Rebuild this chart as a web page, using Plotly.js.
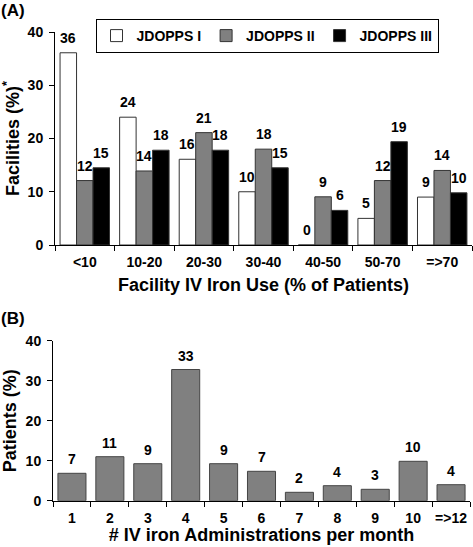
<!DOCTYPE html>
<html>
<head>
<meta charset="utf-8">
<script src="https://cdn.plot.ly/plotly-3.0.1.min.js"></script>
<style>html,body{margin:0;padding:0;background:#fff;}#chart{width:473px;height:547px;}</style>
</head>
<body>
<div id="chart"></div>
<script>
// Panel A data
const catsA = ['<10', '10-20', '20-30', '30-40', '40-50', '50-70', '=>70'];
const seriesNames = ['JDOPPS I', 'JDOPPS II', 'JDOPPS III'];
const valsI   = [36.1, 24.0, 16.1, 10.0, 0.0, 5.0, 9.0];
const valsII  = [12.1, 13.9, 21.1, 18.0, 9.05, 12.1, 14.0];
const valsIII = [14.5, 17.8, 17.8, 14.5, 6.5, 19.4, 9.8];
const labI    = ['36', '24', '16', '10', '0', '5', '9'];
const labII   = ['12', '14', '21', '18', '9', '12', '14'];
const labIII  = ['15', '18', '18', '15', '6', '19', '10'];

// Panel B data
const catsB = ['1', '2', '3', '4', '5', '6', '7', '8', '9', '10', '=>12'];
const valsB = [6.85, 11.0, 9.25, 32.8, 9.25, 7.35, 2.1, 3.75, 2.85, 9.85, 4.0];
const labB  = ['7', '11', '9', '33', '9', '7', '2', '4', '3', '10', '4'];

const FONT = 'Liberation Sans, Arial, sans-serif';
const colorsA = ['#ffffff', '#808080', '#000000'];
const valsA = [valsI, valsII, valsIII];
const labsA = [labI, labII, labIII];

const traces = [];
for (let s = 0; s < 3; s++) {
  traces.push({
    type: 'bar', x: catsA, y: valsA[s], name: seriesNames[s],
    xaxis: 'x', yaxis: 'y',
    marker: {color: colorsA[s], line: {color: '#333', width: 1}},
    hoverinfo: 'skip'
  });
}
traces.push({
  type: 'bar', x: catsB, y: valsB, name: 'B', showlegend: false,
  xaxis: 'x2', yaxis: 'y2', width: 0.74,
  marker: {color: '#808080', line: {color: '#444', width: 1}},
  hoverinfo: 'skip'
});

const lblFont = {family: FONT, size: 14, color: '#000', weight: 'bold'};
const annotations = [];
const shiftA = [-16.5, 0, 16.5];
for (let s = 0; s < 3; s++) {
  catsA.forEach((c, i) => {
    annotations.push({
      xref: 'x', yref: 'y', x: i, y: valsA[s][i], text: labsA[s][i],
      showarrow: false, yanchor: 'bottom', xanchor: 'center',
      xshift: shiftA[s], yshift: 5, font: lblFont
    });
  });
}
catsB.forEach((c, i) => {
  annotations.push({
    xref: 'x2', yref: 'y2', x: i, y: valsB[i], text: labB[i],
    showarrow: false, yanchor: 'bottom', xanchor: 'center',
    yshift: 4, font: lblFont
  });
});
annotations.push({xref: 'paper', yref: 'paper', x: 0, y: 1, xanchor: 'left', yanchor: 'top',
  text: '(A)', showarrow: false, font: {family: FONT, size: 17, color: '#000', weight: 'bold'}, borderpad: 0});
annotations.push({xref: 'paper', yref: 'paper', x: 0, y: 1 - 308 / 547, xanchor: 'left', yanchor: 'top',
  text: '(B)', showarrow: false, font: {family: FONT, size: 17, color: '#000', weight: 'bold'}, borderpad: 0});

const tickFont = {family: FONT, size: 14, color: '#000', weight: 'bold'};
const titleFont = {family: FONT, size: 18, color: '#000', weight: 'bold'};

const xCommon = {
  type: 'category', showline: true, linecolor: '#000', linewidth: 1,
  ticks: 'outside', tickson: 'boundaries', ticklen: 5, tickcolor: '#000', tickangle: 0,
  showgrid: false, zeroline: false, tickfont: tickFont, ticklabelstandoff: 4, fixedrange: true
};
const yCommon = {
  range: [0, 40], tickvals: [0, 10, 20, 30, 40], showline: true, linecolor: '#000', linewidth: 1,
  ticks: 'outside', ticklen: 5, tickcolor: '#000', showgrid: false, zeroline: false,
  tickfont: tickFont, ticklabelstandoff: 3, fixedrange: true
};

const layout = {
  width: 473, height: 547,
  margin: {l: 0, r: 0, t: 0, b: 0},
  paper_bgcolor: '#fff', plot_bgcolor: '#fff',
  barmode: 'group', bargap: 0.17, bargroupgap: 0,
  showlegend: true,
  legend: {
    orientation: 'h', x: 267 / 473, xanchor: 'center', y: 1 - 19 / 547, yanchor: 'top',
    bordercolor: '#000', borderwidth: 1, bgcolor: '#fff',
    font: {family: FONT, size: 14, color: '#000', weight: 'bold'},
    itemwidth: 30, tracegroupgap: 0
  },
  xaxis: Object.assign({}, xCommon, {
    domain: [55 / 473, 472 / 473], anchor: 'y',
    title: {text: 'Facility IV Iron Use (% of Patients)', font: titleFont, standoff: 9}
  }),
  yaxis: Object.assign({}, yCommon, {
    domain: [1 - 245 / 547, 1 - 32 / 547], anchor: 'x',
    title: {text: 'Facilities (%)<sup>*</sup>', font: titleFont, standoff: 10}
  }),
  xaxis2: Object.assign({}, xCommon, {
    domain: [53 / 473, 470 / 473], anchor: 'y2',
    title: {text: '# IV iron Administrations per month', font: titleFont, standoff: 3}
  }),
  yaxis2: Object.assign({}, yCommon, {
    domain: [1 - 500.7 / 547, 1 - 340.7 / 547], anchor: 'x2',
    title: {text: 'Patients (%)', font: titleFont, standoff: 10}
  }),
  annotations: annotations
};

Plotly.newPlot('chart', traces, layout, {displayModeBar: false, staticPlot: true});
</script>
</body>
</html>
